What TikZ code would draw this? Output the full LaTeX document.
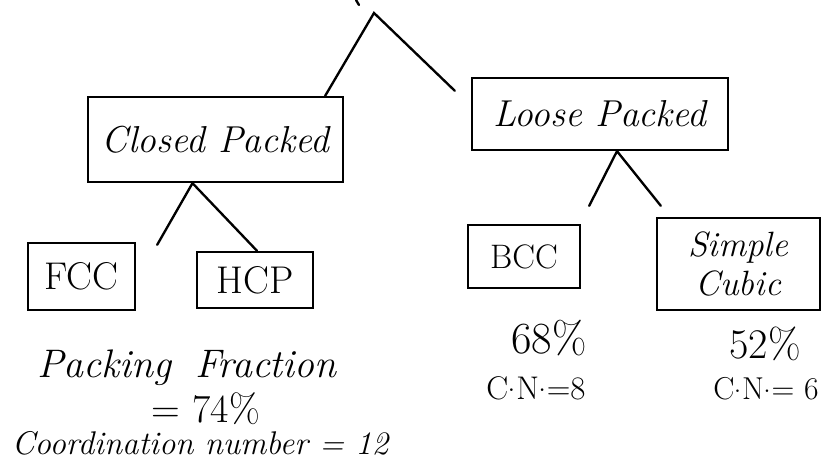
\documentclass[tikz,border=0pt]{standalone}
\usetikzlibrary{calc}
\newcommand{\cndot}{\kern-0.03em\raisebox{0.22em}{.}\kern0.02em}
\begin{document}
\begin{tikzpicture}[x=0.03cm,y=-0.03cm,
  box/.style={draw,line width=2pt,inner sep=0pt,align=center},
  link/.style={line width=2pt,line cap=round},
  lbl/.style={inner sep=0pt,align=center,anchor=base}]
\useasboundingbox (0,0) rectangle (823,461);
% boxes
\node[box,minimum width=7.65cm,minimum height=2.55cm,font=\fontsize{32}{38}\selectfont\itshape] (closed) at (215.5,139.5) {Closed Packed};
\node[box,minimum width=7.68cm,minimum height=2.16cm,font=\fontsize{32}{38}\selectfont\itshape] (loose) at (600,114) {Loose Packed};
\node[box,minimum width=3.21cm,minimum height=2.01cm,font=\fontsize{33}{38}\selectfont] (fcc) at (81.5,276.5) {FCC};
\node[box,minimum width=3.48cm,minimum height=1.68cm,font=\fontsize{33}{38}\selectfont] (hcp) at (255,280) {HCP};
\node[box,minimum width=3.36cm,minimum height=1.89cm,font=\fontsize{29}{34}\selectfont] (bcc) at (524,256.5) {BCC};
\node[box,minimum width=4.89cm,minimum height=2.76cm,font=\fontsize{30}{34}\selectfont\itshape] (sc) at (738.5,264) {Simple\\Cubic};
% connectors
\coordinate (apex) at (374,13);
\coordinate (topmark) at (356,0);
\coordinate (topmarkend) at (359,5);
\draw[link] (topmark) -- (topmarkend);
\coordinate (rfree) at ($(loose.north west)+(-16,14)$);
\draw[link] ($(closed.north east)+(-19,0)$) -- (apex) -- (rfree);
\coordinate (cpb) at ($(closed.south)+(-23,0)$);
\coordinate (cpl) at ($(fcc.north east)+(21,3)$);
\draw[link] (cpl) -- (cpb) -- ($(hcp.north)+(2,0)$);
\coordinate (lpb) at ($(loose.south)+(17,0)$);
\coordinate (lpl) at ($(bcc.north east)+(8,-18)$);
\coordinate (lpr) at ($(sc.north west)+(5,-11)$);
\draw[link] (lpl) -- (lpb) -- (lpr);
% labels
\node[lbl,font=\fontsize{34}{40}\selectfont\itshape] (pf) at (187,377) {Packing\hspace{0.6em}Fraction};
\node[lbl,font=\fontsize{34}{40}\selectfont] (eq74) at (206,422) {= 74\%};
\node[lbl,font=\fontsize{28}{34}\selectfont\itshape] (cn12) at (200,454) {Coordination number = 12};
\node[lbl,font=\fontsize{38}{42}\selectfont] (bcc68) at (549,353) {68\%};
\node[lbl,font=\fontsize{28}{34}\selectfont] (bcccn) at (536,399) {C\cndot N\cndot=8};
\node[lbl,font=\fontsize{36}{40}\selectfont] (sc52) at (765,358) {52\%};
\node[lbl,font=\fontsize{27}{34}\selectfont] (sccn) at (766,399) {C\cndot N\cndot= 6};
\end{tikzpicture}
\end{document}
